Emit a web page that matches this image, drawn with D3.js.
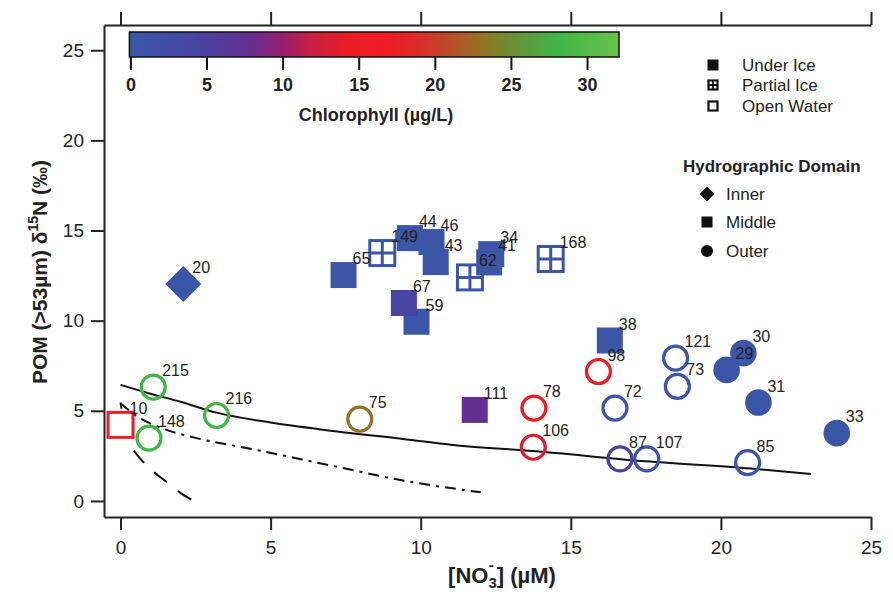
<!DOCTYPE html>
<html>
<head>
<meta charset="utf-8">
<script src="https://cdn.jsdelivr.net/npm/d3@7"></script>
<style>
  body { margin: 0; background: #fff; }
  svg { font-family: "Liberation Sans", Arial, sans-serif; }
</style>
</head>
<body>
<div id="chart"></div>
<script>
// station labels and values
var stations = ["65","149","44","46","43","62","41","34","168","59","67","38","111","10","20",
                "215","148","216","75","78","106","98","72","87","107","121","73","85","29","30","31","33"];
var no3 = [7.43,8.72,9.64,10.36,10.5,11.64,12.28,12.35,14.33,9.86,9.44,16.3,11.8,0.0,2.09,
           1.09,0.95,3.2,7.97,13.77,13.75,15.92,16.47,16.64,17.53,18.49,18.55,20.89,20.19,20.75,21.25,23.86];
var d15n = [12.53,13.75,14.58,14.36,13.25,12.4,13.23,13.69,13.42,9.94,10.98,8.9,5.05,4.22,12.03,
            6.31,3.48,4.74,4.54,5.15,2.98,7.18,5.15,2.33,2.33,7.92,6.35,2.13,7.27,8.2,5.46,3.76];
var chl = [0.5,0.5,0.5,0.5,0.5,0.5,0.5,0.5,0.5,0.5,4,0.5,7.5,16,0.5,
           28,28,28,23,16,13.5,16,0.8,5,0.8,0.8,0.8,0.8,0.5,0.5,0.5,0.5];
// I = inner, M = middle, O = outer
var hydro = ["M","M","M","M","M","M","M","M","M","M","M","M","M","M","I",
             "O","O","O","O","O","O","O","O","O","O","O","O","O","O","O","O","O"];
// U = under ice, P = partial ice, W = open water
var ice = ["U","P","U","U","U","P","U","U","P","U","U","U","U","W","U",
           "W","W","W","W","W","W","W","W","W","W","W","W","W","U","U","U","U"];

// model curves
var solidX = [0,1,2,3.2,5,7,9.6,11,13.75,17.5,21,23];
var solidY = [6.44,5.95,5.5,4.9,4.35,3.9,3.4,3.12,2.77,2.2,1.8,1.5];
var dashDotX = [0,0.5,1.37,2.5,4.53,7,9.64,12];
var dashDotY = [5.42,4.75,4.04,3.5,2.83,1.97,1.07,0.48];
var dashedX = [0,0.2,0.4,0.75,1.14,1.59,1.98,2.42];
var dashedY = [5.45,3.7,2.93,2.18,1.57,0.98,0.46,0.02];

var xTicks = [0,5,10,15,20,25];
var yTicks = [0,5,10,15,20,25];
var chlTicks = [0,5,10,15,20,25,30];

var width = 893, height = 594;

var svg = d3.select("#chart")
  .append("svg")
    .attr("width", width)
    .attr("height", height);

var x = d3.scaleLinear().domain([-0.55, 25]).range([104, 871]);
var y = d3.scaleLinear().domain([-0.89, 26.4]).range([517, 25]);

// chlorophyll colour scale
var chlColor = d3.scaleLinear()
  .domain([0, 5, 8, 10, 12, 14.5, 17, 19.5, 21.5, 23.5, 26, 28, 32.1])
  .range(["#3a58a8","#4b40a0","#672d90","#981f6e","#c8203f","#ec1c26","#ee1c24","#d2342a","#b0552a","#8a7a25","#5c9a3c","#40b54a","#6cc14a"]);

// axes
var axisStyle = function(g) {
  g.selectAll("path, line").attr("stroke", "#222").attr("stroke-width", 2);
  g.selectAll("text").attr("fill", "#222").style("font-size", "19px");
};

svg.append("g")
  .attr("transform", "translate(0,517)")
  .call(d3.axisBottom(x).tickValues(xTicks).tickSize(13).tickSizeOuter(0).tickPadding(11))
  .call(axisStyle);

svg.append("g")
  .attr("transform", "translate(0,25)")
  .call(d3.axisTop(x).tickValues(xTicks).tickSize(13).tickSizeOuter(0).tickFormat(""))
  .call(axisStyle);

svg.append("g")
  .attr("transform", "translate(104,0)")
  .call(d3.axisLeft(y).tickValues(yTicks).tickSize(13).tickSizeOuter(0).tickPadding(7))
  .call(axisStyle);

// axis titles
var yTitle = svg.append("text")
  .attr("transform", "translate(47,272) rotate(-90)")
  .attr("text-anchor", "middle")
  .style("font-size", "21px")
  .style("font-weight", "bold")
  .attr("fill", "#222");
yTitle.append("tspan").text("POM (>53µm) δ");
yTitle.append("tspan").attr("dy", -9).style("font-size", "14px").text("15");
yTitle.append("tspan").attr("dy", 9).text("N (‰)");

var xTitle = svg.append("text")
  .attr("x", 502)
  .attr("y", 583)
  .attr("text-anchor", "middle")
  .style("font-size", "22px")
  .style("font-weight", "bold")
  .attr("fill", "#222");
xTitle.append("tspan").text("[NO");
xTitle.append("tspan").attr("dy", 5).style("font-size", "15px").text("3");
xTitle.append("tspan").attr("dy", -18).attr("dx", -8).style("font-size", "15px").text("-");
xTitle.append("tspan").attr("dy", 13).attr("dx", 3).text("] (µM)");

// curves
var line = d3.line()
  .x(function(d) { return x(d[0]); })
  .y(function(d) { return y(d[1]); })
  .curve(d3.curveMonotoneX);

svg.append("path")
  .datum(d3.zip(solidX, solidY))
  .attr("d", line)
  .attr("fill", "none")
  .attr("stroke", "#111")
  .attr("stroke-width", 2);

svg.append("path")
  .datum(d3.zip(dashDotX, dashDotY))
  .attr("d", line)
  .attr("fill", "none")
  .attr("stroke", "#111")
  .attr("stroke-width", 2)
  .attr("stroke-dasharray", "11,6,3,6");

svg.append("path")
  .datum(d3.zip(dashedX, dashedY))
  .attr("d", line)
  .attr("fill", "none")
  .attr("stroke", "#111")
  .attr("stroke-width", 2)
  .attr("stroke-dasharray", "16,14")
  .attr("stroke-dashoffset", 10);

// points
var data = stations.map(function(s, i) {
  return {id: s, x: no3[i], y: d15n[i], chl: chl[i], hydro: hydro[i], ice: ice[i]};
});
var order = ["59"];
data.sort(function(a, b) { return (order.indexOf(b.id) >= 0) - (order.indexOf(a.id) >= 0); });

var marks = svg.append("g");
data.forEach(function(d) {
  var cx = x(d.x), cy = y(d.y), col = chlColor(d.chl);
  var g = marks.append("g").attr("transform", "translate(" + cx + "," + cy + ")");
  if (d.hydro == "I") {
    g.append("path")
      .attr("d", d3.symbol().type(d3.symbolSquare).size(650)())
      .attr("transform", "rotate(45)")
      .attr("fill", col);
  } else if (d.hydro == "M") {
    if (d.ice == "U") {
      g.append("rect").attr("x", -13).attr("y", -13).attr("width", 26).attr("height", 26).attr("fill", col);
    } else {
      g.append("rect").attr("x", -12.5).attr("y", -12.5).attr("width", 25).attr("height", 25)
        .attr("fill", "#fff").attr("stroke", col).attr("stroke-width", 3);
      if (d.ice == "P") {
        g.append("path").attr("d", "M0,-12.5V12.5M-12.5,0H12.5")
          .attr("stroke", col).attr("stroke-width", 3);
      }
    }
  } else {
    if (d.ice == "U") {
      g.append("circle").attr("r", 13.3).attr("fill", col);
    } else {
      g.append("circle").attr("r", 12).attr("fill", "none").attr("stroke", col).attr("stroke-width", 3.2);
    }
  }
});

svg.append("g")
  .selectAll("text")
  .data(data)
  .enter()
  .append("text")
    .attr("x", function(d) { return x(d.x) + 9; })
    .attr("y", function(d) { return y(d.y) - 11; })
    .style("font-size", "16px")
    .attr("fill", "#222")
    .text(function(d) { return d.id; });

// colour bar
var cbx = d3.scaleLinear().domain([0, 32.1]).range([130.4, 619]);
var grad = svg.append("defs").append("linearGradient").attr("id", "chlgrad");
chlColor.domain().forEach(function(v) {
  grad.append("stop")
    .attr("offset", (v / 32.1 * 100) + "%")
    .attr("stop-color", chlColor(v));
});
svg.append("rect")
  .attr("x", cbx(0) - 1)
  .attr("y", 32)
  .attr("width", cbx(32.1) - cbx(0) + 1)
  .attr("height", 25)
  .attr("fill", "url(#chlgrad)")
  .attr("stroke", "#111")
  .attr("stroke-width", 1.5);

svg.append("g")
  .attr("transform", "translate(0,57)")
  .call(d3.axisBottom(cbx).tickValues(chlTicks).tickSize(13).tickPadding(8))
  .call(function(g) {
    g.select(".domain").remove();
    g.selectAll("line").attr("stroke", "#111").attr("stroke-width", 2);
    g.selectAll("text").attr("fill", "#222").style("font-size", "18px").style("font-weight", "bold");
  });

svg.append("text")
  .attr("x", 376)
  .attr("y", 121)
  .attr("text-anchor", "middle")
  .style("font-size", "18px")
  .style("font-weight", "bold")
  .attr("fill", "#222")
  .text("Chlorophyll (µg/L)");

// legends
var iceLabels = ["Under Ice", "Partial Ice", "Open Water"];
var iceRows = [65, 85, 106];
var domainLabels = ["Inner", "Middle", "Outer"];
var domainRows = [194, 222, 251];

var leg = svg.append("g");
iceLabels.forEach(function(t, i) {
  var g = leg.append("g").attr("transform", "translate(713," + iceRows[i] + ")");
  if (i == 0) {
    g.append("rect").attr("x", -5.5).attr("y", -5.5).attr("width", 11).attr("height", 11).attr("fill", "#111");
  } else {
    g.append("rect").attr("x", -4.5).attr("y", -4.5).attr("width", 9).attr("height", 9)
      .attr("fill", "none").attr("stroke", "#111").attr("stroke-width", 2.2);
    if (i == 1) g.append("path").attr("d", "M0,-4.5V4.5M-4.5,0H4.5").attr("stroke", "#111").attr("stroke-width", 1.8);
  }
  leg.append("text")
    .attr("x", 742).attr("y", iceRows[i]).attr("dy", "0.36em")
    .style("font-size", "17px").attr("fill", "#222").text(t);
});

leg.append("text")
  .attr("x", 683).attr("y", 166).attr("dy", "0.36em")
  .style("font-size", "17px").style("font-weight", "bold").attr("fill", "#222")
  .text("Hydrographic Domain");

domainLabels.forEach(function(t, i) {
  var g = leg.append("g").attr("transform", "translate(707," + domainRows[i] + ")");
  if (i == 0) {
    g.append("path").attr("d", d3.symbol().type(d3.symbolSquare).size(110)()).attr("transform", "rotate(45)").attr("fill", "#111");
  } else if (i == 1) {
    g.append("rect").attr("x", -5.5).attr("y", -5.5).attr("width", 11).attr("height", 11).attr("fill", "#111");
  } else {
    g.append("circle").attr("r", 6).attr("fill", "#111");
  }
  leg.append("text")
    .attr("x", 726).attr("y", domainRows[i]).attr("dy", "0.36em")
    .style("font-size", "17px").attr("fill", "#222").text(t);
});
</script>
</body>
</html>
